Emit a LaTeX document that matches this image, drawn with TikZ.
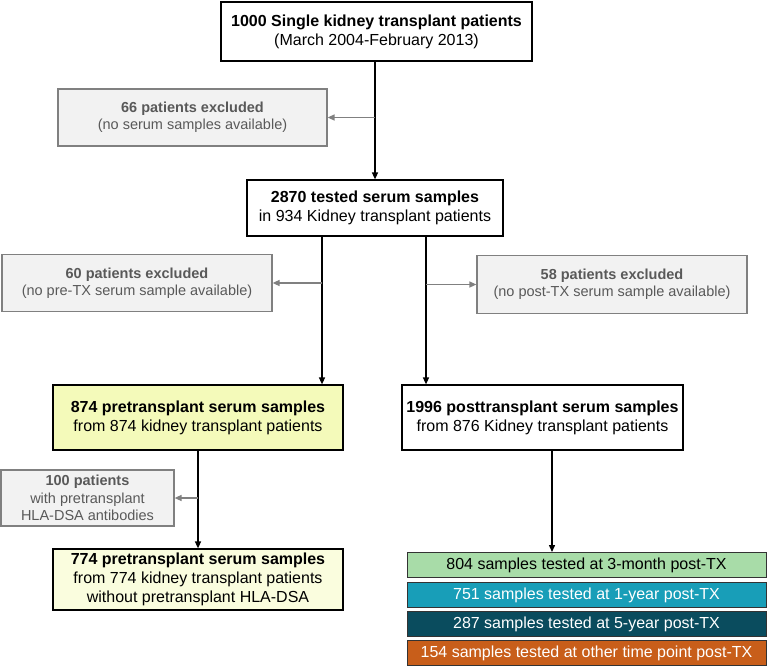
\documentclass[tikz,border=0pt]{standalone}
\usepackage{fontspec}
\setmainfont{Liberation Sans}
\usetikzlibrary{arrows.meta}
\definecolor{grayfill}{RGB}{242,242,242}
\definecolor{grayline}{RGB}{128,128,128}
\definecolor{graytext}{RGB}{89,89,89}
\definecolor{yel}{RGB}{244,250,186}
\definecolor{yellight}{RGB}{250,253,222}
\definecolor{grn}{RGB}{168,220,168}
\definecolor{blu}{RGB}{24,158,184}
\definecolor{dteal}{RGB}{10,76,94}
\definecolor{orng}{RGB}{200,94,26}
\begin{document}
\begin{tikzpicture}[x=1pt,y=-1pt,
  box/.style={draw=black, line width=1.2pt, fill=white, align=center, inner sep=0pt, font=\fontsize{16}{19.2}\selectfont},
  exbox/.style={draw=grayline, line width=1.2pt, fill=grayfill, text=graytext, align=center, inner sep=0pt, font=\fontsize{14.5}{17.4}\selectfont},
  tbox/.style={draw=black!80, line width=1pt, align=center, inner sep=0pt, font=\fontsize{16}{19.2}\selectfont, minimum width=359pt, minimum height=25pt},
  arr/.style={draw=black, line width=1.4pt, -{Triangle[length=7pt,width=6pt]}},
  garr/.style={draw=grayline, line width=1.4pt, -{Triangle[length=7pt,width=6pt]}}
]
\useasboundingbox (0,0) rectangle (767,666);

\node[box, minimum width=311pt, minimum height=59pt] (top) at (376.5,31.5)
  {\textbf{1000 Single kidney transplant patients}\\(March 2004-February 2013)};
\node[exbox, minimum width=269pt, minimum height=57pt] (ex66) at (192.5,117.5)
  {\textbf{66 patients excluded}\\(no serum samples available)};
\node[box, minimum width=256pt, minimum height=56pt] (s2870) at (375,208)
  {\textbf{2870 tested serum samples}\\in 934 Kidney transplant patients};
\node[exbox, minimum width=270pt, minimum height=57pt] (ex60) at (137,283)
  {\textbf{60 patients excluded}\\(no pre-TX serum sample available)};
\node[exbox, minimum width=270pt, minimum height=58pt] (ex58) at (612,284.5)
  {\textbf{58 patients excluded}\\(no post-TX serum sample available)};
\node[box, fill=yel, minimum width=290pt, minimum height=65pt] (p874) at (198,417.5)
  {\textbf{874 pretransplant serum samples}\\from 874 kidney transplant patients};
\node[box, minimum width=281pt, minimum height=65pt] (p1996) at (542.5,417.5)
  {\textbf{1996 posttransplant serum samples}\\from 876 Kidney transplant patients};
\node[exbox, minimum width=173pt, minimum height=56pt] (ex100) at (87.5,498)
  {\textbf{100 patients}\\with pretransplant\\HLA-DSA antibodies};
\node[box, fill=yellight, minimum width=290pt, minimum height=61pt] (p774) at (198,579.5)
  {\textbf{774 pretransplant serum samples}\\from 774 kidney transplant patients\\without pretransplant HLA-DSA};

\node[tbox, fill=grn, text=black] (g804) at (586.5,565) {804 samples tested at 3-month post-TX};
\node[tbox, fill=blu, text=white] (g751) at (586.5,595) {751 samples tested at 1-year post-TX};
\node[tbox, fill=dteal, text=white] (g287) at (586.5,624) {287 samples tested at 5-year post-TX};
\node[tbox, fill=orng, text=white] (g154) at (586.5,653) {154 samples tested at other time point post-TX};

\coordinate (bL) at (322,0);
\coordinate (bR) at (426,0);
\coordinate (bP) at (552,0);

\draw[arr] (top.south -| s2870.north) -- (s2870.north);
\draw[garr] (ex66.east -| s2870.north) -- (ex66.east);

\draw[arr] (s2870.south -| bL) -- (p874.north -| bL);
\draw[garr] (ex60.east -| bL) -- (ex60.east);

\draw[arr] (s2870.south -| bR) -- (p1996.north -| bR);
\draw[garr] (ex58.west -| bR) -- (ex58.west);

\draw[arr] (p874.south) -- (p774.north);
\draw[garr] (ex100.east -| p874.south) -- (ex100.east);

\draw[arr] (p1996.south -| bP) -- (g804.north -| bP);
\end{tikzpicture}
\end{document}
